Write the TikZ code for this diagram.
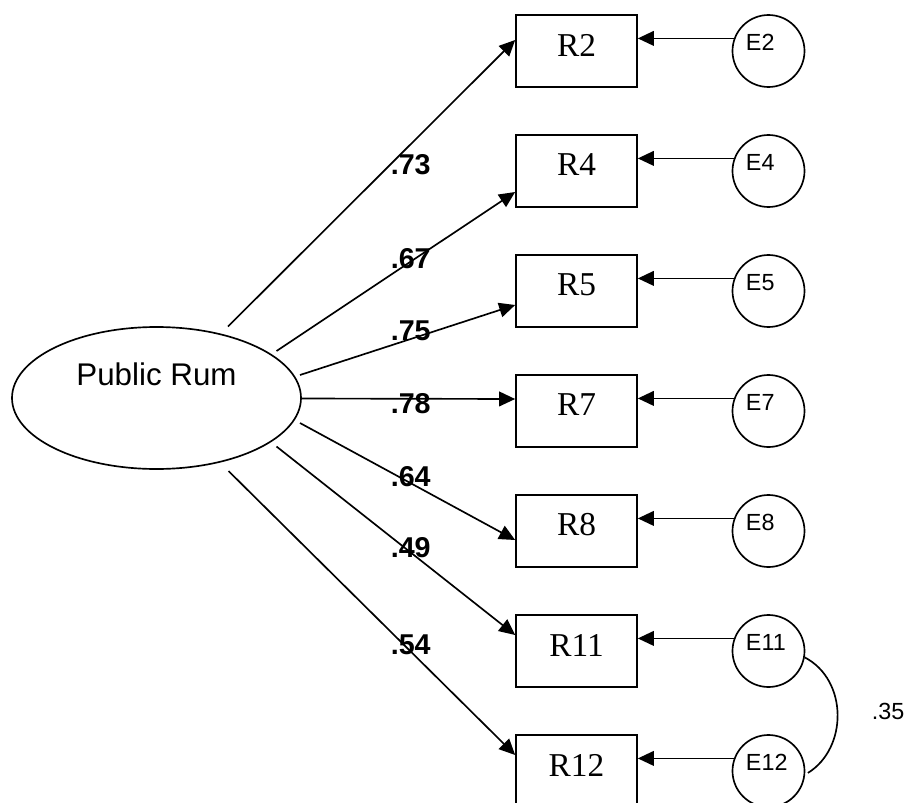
\documentclass[tikz,border=0pt]{standalone}
\usepackage{fontspec}
\setmainfont{Liberation Serif}
\setsansfont{Liberation Sans}
\usetikzlibrary{arrows.meta,shapes.geometric}
\begin{document}
\begin{tikzpicture}[x=0.75pt,y=-0.75pt,line width=1.25pt,
  indbox/.style={draw, minimum width=90.75pt, minimum height=54pt, inner sep=0pt,
    label={[yshift=4.5pt, font=\fontsize{25}{25}\selectfont]center:#1}},
  errcirc/.style={draw, circle, minimum size=54pt, inner sep=0pt,
    label={[text width=40pt, align=left, inner sep=0pt, xshift=3.1pt, yshift=6.4pt,
            font=\sffamily\fontsize{17.5}{17.5}\selectfont]center:#1}},
  latent/.style={draw, ellipse, minimum width=216.75pt, minimum height=106.5pt, inner sep=0pt,
    label={[yshift=18pt, font=\sffamily\fontsize{23.5}{23.5}\selectfont]center:#1}},
  coef/.style={font=\sffamily\bfseries\fontsize{21.5}{21.5}\selectfont, anchor=west, inner sep=0pt},
  corr/.style={font=\sffamily\fontsize{17.5}{17.5}\selectfont, anchor=west, inner sep=0pt},
  tip/.style={-{Triangle[length=12pt,width=11pt]}}
]
\useasboundingbox (0,0) rectangle (907,803);
\clip (0,0) rectangle (907,803);

% latent factor
\node[latent=Public Rum] (pr) at (156.5,398) {};

% indicators
\node[indbox=R2]  (R2)  at (576.5,51)  {};
\node[indbox=R4]  (R4)  at (576.5,171) {};
\node[indbox=R5]  (R5)  at (576.5,291) {};
\node[indbox=R7]  (R7)  at (576.5,411) {};
\node[indbox=R8]  (R8)  at (576.5,531) {};
\node[indbox=R11] (R11) at (576.5,651) {};
\node[indbox=R12] (R12) at (576.5,771) {};

% error terms
\node[errcirc=E2]  (E2)  at (768.5,51)  {};
\node[errcirc=E4]  (E4)  at (768.5,171) {};
\node[errcirc=E5]  (E5)  at (768.5,291) {};
\node[errcirc=E7]  (E7)  at (768.5,411) {};
\node[errcirc=E8]  (E8)  at (768.5,531) {};
\node[errcirc=E11] (E11) at (768.5,651) {};
\node[errcirc=E12] (E12) at (768.5,771) {};

% factor loadings
\draw[tip] ([shift={(71.5,-71.5)}]pr.center)  -- ([shift={(0,-11)}]R2.west);
\draw[tip] ([shift={(120,-47)}]pr.center)     -- ([shift={(0,21)}]R4.west);
\draw[tip] ([shift={(143.5,-23)}]pr.center)   -- ([shift={(0,14)}]R5.west);
\draw[tip] ([shift={(144.5,0.5)}]pr.center)   -- ([shift={(0,-12)}]R7.west);
\draw[tip] ([shift={(143.5,25)}]pr.center)    -- ([shift={(0,9)}]R8.west);
\draw[tip] ([shift={(120,48.5)}]pr.center)    -- ([shift={(0,-16)}]R11.west);
\draw[tip] ([shift={(72,73)}]pr.center)       -- ([shift={(0,-16)}]R12.west);

\node[coef] (c2)  at (390,164.5) {.73};
\node[coef] (c4)  at (390,259)   {.67};
\node[coef] (c5)  at (390,331)   {.75};
\node[coef] (c7)  at (390,403.3) {.78};
\node[coef] (c8)  at (390,476.7) {.64};
\node[coef] (c11) at (390,547.5) {.49};
\node[coef] (c12) at (390,645)   {.54};

% error paths
\foreach \n in {2,4,5,7,8,11,12}
  \draw[tip] (E\n.160.5) -- (E\n.160.5 -| R\n.east);

% correlated errors
\draw (E11.-10) .. controls (848,680) and (848,748) .. ([xshift=2pt]E12.-3);
\node[corr] (r1112) at (871,711.5) {.35};
\end{tikzpicture}
\end{document}
